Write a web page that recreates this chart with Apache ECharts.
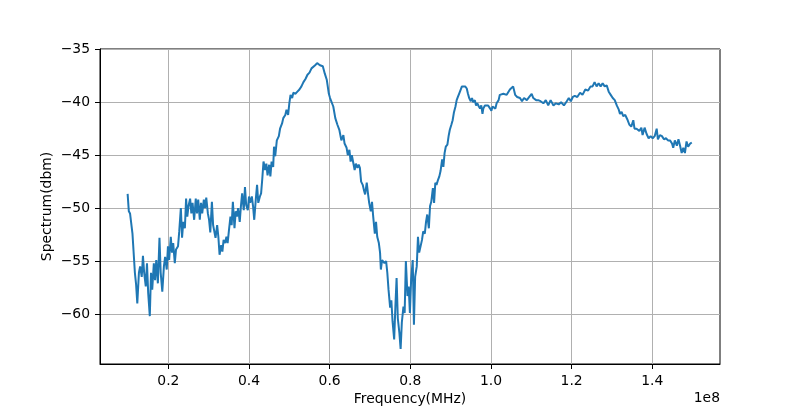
<!DOCTYPE html>
<html>
<head>
<meta charset="utf-8">
<script src="https://cdn.jsdelivr.net/npm/echarts@6/dist/echarts.min.js"></script>
<style>html,body{margin:0;padding:0;background:#fff;}#chart{width:800px;height:409px;}</style>
</head>
<body>
<div id="chart"></div>
<script>
// Frequency in MHz (axis shows units of 1e8 Hz)
const freqMHz = [
9.9,10.2,10.5,11.1,11.7,12.0,12.3,12.7,13.0,13.4,13.7,14.0,14.4,14.7,15.0,15.4,15.7,16.0,16.4,16.7,
17.0,17.4,17.8,18.1,18.5,18.9,19.2,19.6,19.9,20.2,20.6,20.9,21.2,21.6,21.9,22.4,22.7,23.1,23.4,23.7,
24.1,24.4,24.7,25.0,25.4,25.7,26.0,26.4,26.8,27.1,27.4,27.8,28.1,28.4,28.8,29.1,29.4,29.8,30.1,30.4,
30.8,31.1,31.4,31.7,32.1,32.4,32.7,33.1,33.4,33.7,34.1,34.4,34.7,35.0,35.4,35.7,36.0,36.4,36.7,37.0,
37.3,37.7,38.0,38.3,38.7,39.0,39.3,39.7,40.0,40.3,40.7,41.0,41.3,41.7,42.0,42.3,42.7,43.0,43.3,43.6,
44.0,44.3,44.6,45.0,45.3,45.6,46.0,46.2,46.5,46.9,47.4,47.7,48.2,48.5,49.0,49.3,49.7,50.0,50.3,50.7,
51.0,51.5,52.0,52.5,53.0,53.5,54.0,54.5,55.0,55.5,56.4,56.9,57.6,58.3,58.8,59.3,59.8,60.1,60.5,60.9,
61.4,61.9,62.4,62.9,63.4,63.7,64.2,64.5,64.9,65.2,65.5,65.9,66.2,66.5,66.9,67.2,67.5,67.8,68.2,68.5,
68.8,69.2,69.5,69.8,70.2,70.5,70.8,71.2,71.5,71.8,72.2,72.5,72.7,73.0,73.3,73.6,74.0,74.3,74.6,75.0,
75.3,75.6,76.0,76.3,76.6,76.9,77.3,77.6,77.9,78.3,78.6,78.9,79.3,79.6,79.9,80.2,80.6,80.9,81.2,81.6,
81.9,82.2,82.6,82.9,83.2,83.6,83.9,84.2,84.6,84.9,85.2,85.6,85.9,86.2,86.5,86.9,87.2,87.5,87.9,88.2,
88.5,88.8,89.2,89.5,89.8,90.2,90.5,90.8,91.2,91.5,91.8,92.1,92.5,92.8,93.1,93.6,94.0,94.3,94.6,95.0,
95.3,95.6,96.0,96.3,96.6,97.0,97.3,97.6,97.9,98.1,98.5,98.9,99.3,99.8,100.1,100.4,100.8,101.1,101.4,101.9,
102.2,103.1,103.9,104.7,105.5,106.0,106.5,107.2,107.7,108.2,108.9,109.5,110.1,110.5,111.2,111.7,112.3,113.0,113.6,114.2,
114.8,115.5,116.1,116.8,117.4,118.1,118.8,119.3,119.8,120.3,120.8,121.4,122.1,122.7,123.4,124.1,124.7,125.2,125.7,126.2,
126.7,127.2,127.7,128.2,128.7,129.2,129.7,130.2,130.7,131.2,131.7,132.0,132.4,132.8,133.3,133.8,134.3,134.8,135.3,135.6,
136.1,136.8,137.3,137.6,138.1,138.6,139.1,139.6,140.1,140.6,141.1,141.4,141.9,142.4,142.9,143.4,143.9,144.4,144.9,145.2,
145.6,146.1,146.5,146.9,147.3,147.7,148.1,148.5,148.9,149.4,149.8
];
const spectrumDbm = [
-48.65,-50.3,-50.5,-52.4,-56.1,-57.2,-59.0,-56.1,-55.5,-56.5,-54.5,-56.1,-57.4,-55.2,-58.0,-60.2,-56.1,-57.7,-55.2,-56.8,
-54.9,-57.1,-52.8,-56.1,-57.9,-55.5,-54.6,-55.8,-53.6,-54.9,-52.7,-54.2,-53.3,-55.2,-53.9,-53.6,-52.2,-50.0,-52.8,-51.3,
-51.9,-49.1,-50.8,-49.8,-49.1,-50.5,-49.5,-51.1,-49.1,-50.5,-49.2,-51.1,-49.5,-50.5,-49.2,-50.0,-49.0,-50.5,-51.1,-52.3,
-49.4,-51.6,-51.7,-52.8,-51.6,-52.7,-54.4,-53.5,-54.1,-53.0,-53.3,-52.7,-53.3,-52.2,-50.8,-51.6,-49.4,-51.9,-50.3,-50.8,
-50.0,-51.3,-49.8,-48.6,-50.2,-48.0,-49.7,-50.2,-48.9,-49.5,-48.9,-49.8,-51.1,-49.1,-47.8,-49.5,-48.9,-48.6,-47.2,-45.6,
-46.4,-45.8,-46.9,-45.9,-47.0,-45.6,-46.1,-44.2,-45.1,-43.6,-43.2,-42.5,-42.0,-41.5,-41.2,-40.7,-41.2,-40.1,-39.3,-39.6,
-39.1,-39.2,-39.0,-38.8,-38.5,-38.1,-37.8,-37.4,-37.2,-36.8,-36.5,-36.3,-36.5,-36.6,-37.3,-37.9,-39.2,-39.6,-39.6,-40.4,
-41.5,-42.1,-42.6,-43.6,-43.1,-43.9,-44.3,-45.0,-44.5,-45.6,-45.0,-45.1,-46.4,-45.8,-46.2,-45.9,-46.2,-47.5,-47.8,-48.3,
-48.7,-47.6,-48.6,-49.5,-50.3,-49.4,-50.8,-52.4,-51.3,-52.7,-53.3,-54.2,-55.8,-54.9,-55.0,-55.2,-55.0,-56.1,-57.7,-59.4,
-58.7,-60.7,-62.4,-59.3,-56.6,-60.4,-61.8,-63.3,-60.8,-59.3,-59.9,-55.0,-58.3,-57.4,-59.9,-56.8,-54.9,-61.0,-56.5,-55.5,
-52.7,-54.2,-54.2,-53.0,-52.2,-52.4,-51.3,-50.6,-51.9,-49.8,-49.4,-48.1,-49.5,-47.6,-47.8,-47.3,-47.0,-46.5,-45.4,-46.1,
-44.8,-44.2,-44.0,-43.2,-42.6,-42.1,-41.7,-41.0,-40.4,-39.8,-39.5,-39.2,-38.8,-38.5,-38.5,-38.5,-38.7,-39.2,-39.6,-39.9,
-39.6,-40.0,-39.8,-40.3,-40.1,-40.4,-40.6,-40.3,-41.1,-40.6,-40.3,-40.4,-40.3,-40.6,-40.8,-40.4,-40.3,-40.6,-40.1,-39.8,
-39.3,-39.2,-39.3,-38.8,-38.5,-39.3,-39.5,-39.6,-39.9,-39.6,-39.8,-39.5,-39.2,-39.6,-39.8,-39.8,-39.9,-40.1,-39.8,-40.3,
-39.8,-40.3,-40.1,-40.2,-40.0,-40.3,-39.9,-39.6,-39.9,-39.5,-39.4,-39.5,-39.1,-39.3,-38.8,-38.9,-38.5,-38.5,-38.1,-38.5,
-38.2,-38.5,-38.2,-38.5,-38.4,-39.0,-39.3,-39.6,-39.8,-40.3,-40.7,-41.1,-40.9,-41.3,-41.2,-41.6,-42.1,-42.3,-41.7,-42.5,
-42.5,-42.7,-42.4,-43.1,-42.4,-43.0,-43.4,-43.2,-43.4,-43.2,-42.5,-43.5,-43.1,-43.2,-43.5,-43.4,-43.6,-43.6,-43.9,-44.3,
-43.6,-44.1,-43.5,-44.1,-44.8,-44.3,-44.8,-43.7,-44.2,-43.9,-43.8
];
const xTicks = [20, 40, 60, 80, 100, 120, 140];
const yTicks = [-60, -55, -50, -45, -40, -35];

const FONT = 'DejaVu Sans';
const chart = echarts.init(document.getElementById('chart'), null, {renderer: 'canvas'});
chart.setOption({
  animation: false,
  backgroundColor: '#ffffff',
  grid: {left: 100, right: 80, top: 49, bottom: 45, show: true, borderColor: '#000', borderWidth: 1,
    backgroundColor: 'transparent', containLabel: false, outerBoundsMode: 'none'},
  xAxis: {
    type: 'value', min: 3.05, max: 156.8,
    name: 'Frequency(MHz)', nameLocation: 'middle', nameGap: 28, nameMoveOverlap: false,
    nameTextStyle: {fontFamily: FONT, fontSize: 13.9, color: '#000'},
    axisLine: {show: true, lineStyle: {color: '#000', width: 1}},
    axisTick: {show: true, length: 5, lineStyle: {color: '#000', width: 1}, customValues: xTicks},
    axisLabel: {customValues: xTicks, fontFamily: FONT, fontSize: 13.9, color: '#000', margin: 10,
      formatter: v => (v / 100).toFixed(1)},
    splitLine: {show: true, lineStyle: {color: '#b0b0b0', width: 1}}
  },
  yAxis: {
    type: 'value', min: -64.72, max: -34.97,
    name: 'Spectrum(dbm)', nameLocation: 'middle', nameGap: 46, nameMoveOverlap: false,
    nameTextStyle: {fontFamily: FONT, fontSize: 13.9, color: '#000'},
    axisLine: {show: true, lineStyle: {color: '#000', width: 1}},
    axisTick: {show: true, length: 5, lineStyle: {color: '#000', width: 1}, customValues: yTicks},
    axisLabel: {customValues: yTicks, fontFamily: FONT, fontSize: 13.9, color: '#000', margin: 10,
      formatter: v => String(v).replace('-', '\u2212')},
    splitLine: {show: true, lineStyle: {color: '#b0b0b0', width: 1}}
  },
  graphic: [{
    type: 'text', right: 80, top: 391,
    style: {text: '1e8', fontFamily: FONT, fontSize: 13.9, fill: '#000'}
  }],
  series: [{
    type: 'line',
    data: freqMHz.map((f, i) => [f, spectrumDbm[i]]),
    showSymbol: false,
    lineStyle: {color: '#1f77b4', width: 2},
    itemStyle: {color: '#1f77b4'},
    z: 3
  }]
});
</script>
</body>
</html>
